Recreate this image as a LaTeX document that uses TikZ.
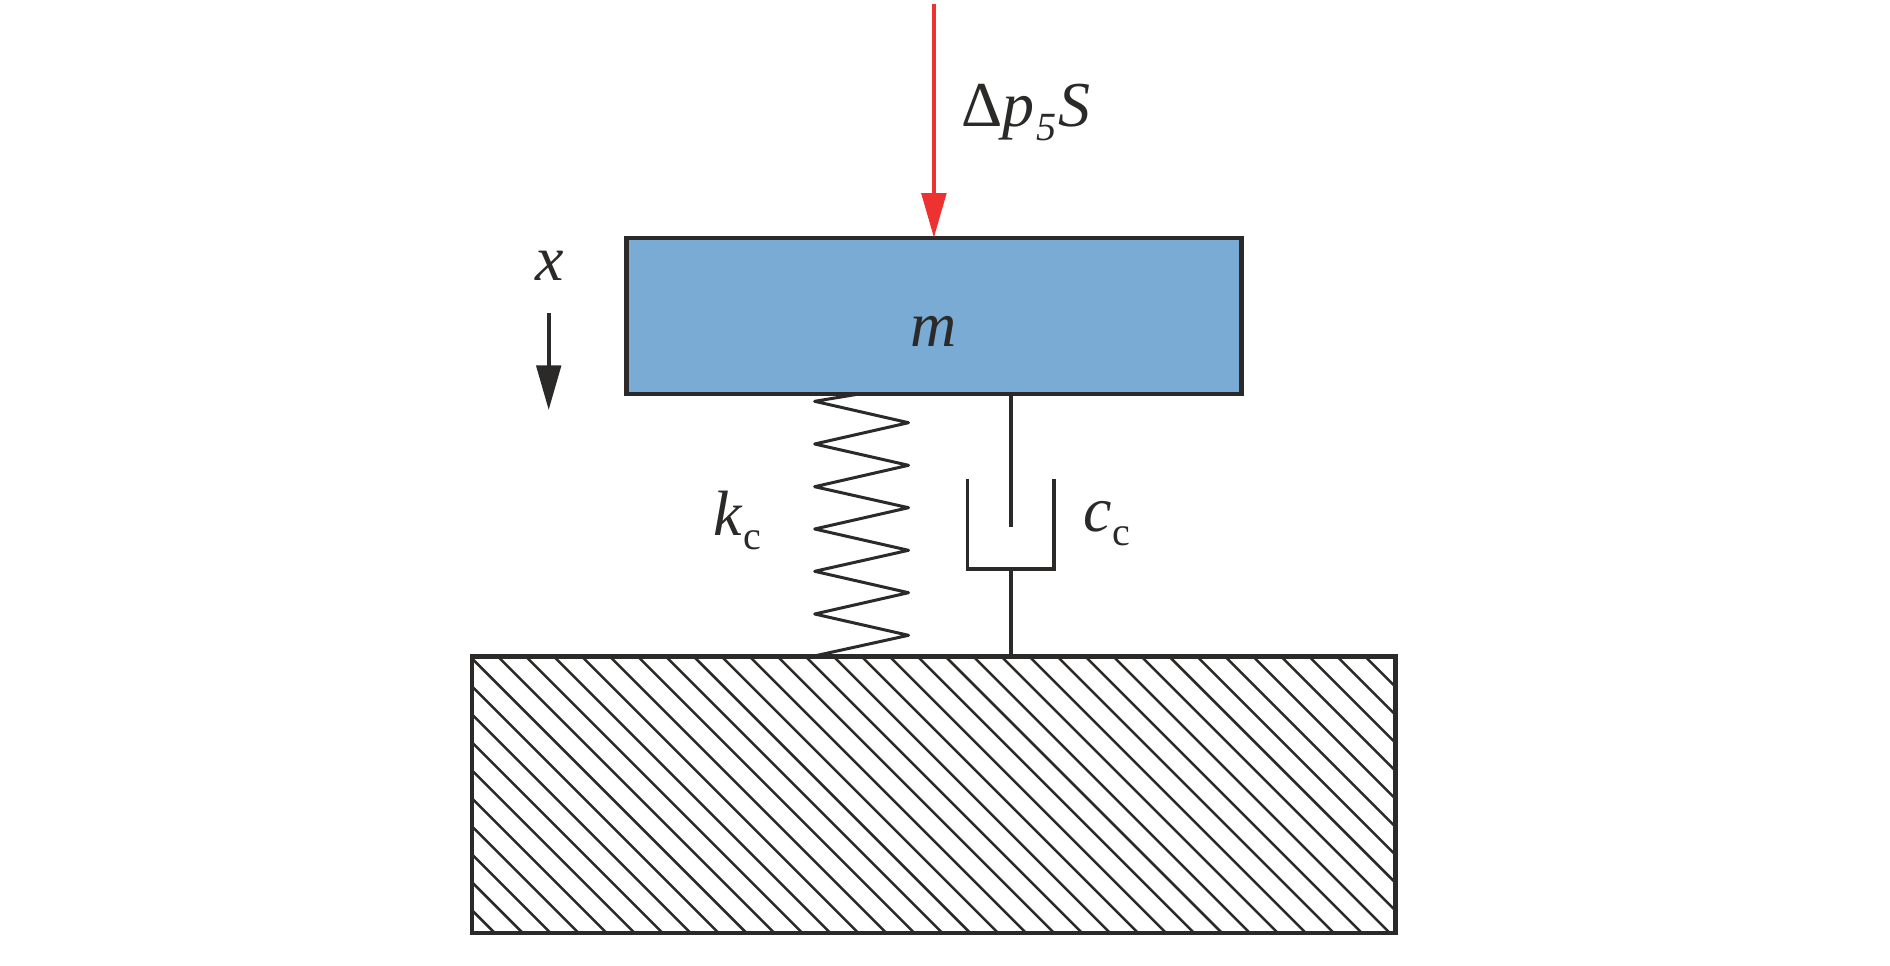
\documentclass[tikz,border=0pt]{standalone}
\usepackage{fontspec}
\setmainfont{Liberation Serif}
\usetikzlibrary{arrows.meta}
\definecolor{ink}{RGB}{43,42,41}
\definecolor{massblue}{RGB}{122,171,212}
\definecolor{forcered}{RGB}{238,50,50}
\newcommand{\bigtxt}{\fontsize{64}{70}\selectfont}
\newcommand{\subtxt}{\fontsize{40}{44}\selectfont}
\tikzset{
  x=1pt,y=-1pt,
  block/.style={draw=ink,line width=4.4pt,inner sep=0pt,outer sep=0pt},
  rod/.style={draw=ink,line width=3.8pt},
  coil/.style={draw=ink,line width=3pt,line join=round,line cap=round},
  hatchline/.style={draw=ink,line width=2.5pt},
  label/.style={text=ink,inner sep=0pt,outer sep=0pt,anchor=base west},
  redarrow/.style={draw=forcered,line width=4pt,-{Triangle[length=44.7pt,width=24.5pt,fill=forcered]}},
  blackarrow/.style={draw=ink,line width=3.8pt,-{Triangle[length=44.7pt,width=24.5pt,fill=ink]}},
}
\begin{document}
\begin{tikzpicture}
\useasboundingbox[fill=white] (0,0) rectangle (1890,966);
% blocks
\node[block,fill=massblue,minimum width=615.2pt,minimum height=156pt] (mass) at (933.9,315.7) {};
\node[block,fill=white,minimum width=923.5pt,minimum height=276.5pt] (ground) at (933.75,794.75) {};
% hatching
\begin{scope}
\clip (ground.south west) rectangle (ground.north east);
\foreach \k in {-9,...,32}{
  \pgfmathsetmacro{\c}{-186.5+27.97*\k}
  \draw[hatchline] ({\c+640},640) -- ({\c+950},950);
}
\end{scope}
\node[block,minimum width=923.5pt,minimum height=276.5pt] (groundframe) at (933.75,794.75) {};
% force arrow
\coordinate (forcetail) at (933.9,4);
\draw[redarrow] (forcetail) -- (mass.north);
% direction arrow
\coordinate (dirtail) at (548.7,313.3);
\coordinate (dirtip) at (548.7,410);
\draw[blackarrow] (dirtail) -- (dirtip);
% spring
\coordinate (springtop) at (861,393.7);
\coordinate (springbottom) at (812,656.5);
\draw[coil] (springtop) -- (814.7,401.3) -- (908.5,422.7) -- (814.7,444) -- (908.5,465.3)
  -- (814.7,486.7) -- (908.5,507.7) -- (814.7,529) -- (908.5,550.3) -- (814.7,571.3)
  -- (908.5,592.7) -- (814.7,614) -- (908.5,635.3) -- (springbottom);
% damper
\coordinate (rodx) at (1010.7,0);
\coordinate (rodend) at (1010.7,526.7);
\coordinate (cylbase) at (1010.7,568.7);
\coordinate (cylleft) at (967.4,479.3);
\coordinate (cylright) at (1054,479.3);
\draw[rod] (mass.south -| rodx) -- (rodend);
\draw[rod] (cylleft) -- (cylleft |- cylbase) -- (cylright |- cylbase) -- (cylright);
\draw[rod] (cylbase) -- (ground.north -| rodx);
% labels
\node[label] (fl) at (961,126.7) {\bigtxt Δ\textit{p}\kern2pt\raisebox{-14pt}{\subtxt\textit{5}}\kern2pt\textit{S}};
\node[text=ink,inner sep=0pt,anchor=base] (ml) at (934,346) {\bigtxt\textit{m}};
\node[text=ink,inner sep=0pt,anchor=base] (xl) at (550,280.7) {\bigtxt\textit{x}};
\node[label] (kl) at (713,535.7) {\bigtxt\textit{k}};
\node[label] (ksub) at (743.5,549) {\subtxt c};
\node[label] (cl) at (1083,531.7) {\bigtxt\textit{c}};
\node[label] (csub) at (1112.5,545.7) {\subtxt c};
\end{tikzpicture}
\end{document}
